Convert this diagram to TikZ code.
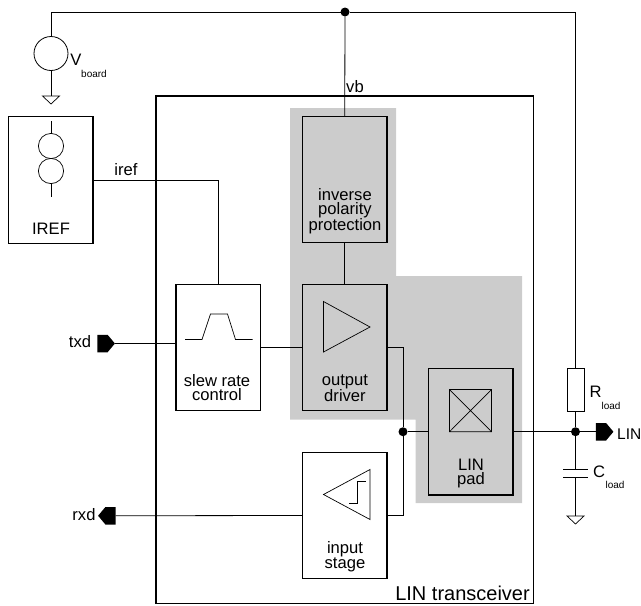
\documentclass[tikz,border=0pt]{standalone}
\usepackage{fontspec}
\setmainfont{Liberation Sans}
\usetikzlibrary{positioning,shapes.symbols}
\tikzset{
    linblock/.style={draw, rectangle, line width=1.3pt, minimum width=84.5pt, minimum height=126.5pt, inner sep=0pt, outer sep=0pt},
    linwire/.style={draw, line width=0.8pt},
    linsymbol/.style={draw, line width=0.7pt, line join=miter},
    lintext/.style={align=center, inner sep=0pt, font=\fontsize{16.6}{14}\selectfont},
    linsmall/.style={inner sep=0pt, font=\fontsize{10}{10}\selectfont},
    lindot/.style={circle, fill=black, minimum size=9pt, inner sep=0pt, outer sep=0pt},
    linport/.style={signal, fill=black, minimum width=17.5pt, minimum height=17.5pt, inner sep=0pt, outer sep=0pt, signal pointer angle=100},
    linground/.pic={\draw[linsymbol] (-8.5,0) -- (8.5,0) -- (0,8) -- cycle;}
}
\begin{document}
\begin{tikzpicture}[x=1pt, y=-1pt]
    \useasboundingbox (0,0) rectangle (641,606);
    \fill[gray!40] (290,108) -- (396,108) -- (396,276) -- (522,276) -- (522,503) -- (415.5,503) -- (415.5,419.5) -- (290,419.5) -- cycle;

    \node[linblock, minimum width=377.5pt, minimum height=507.5pt] (transceiver) at (344.75,349.75) {};
    \node[linblock] (irefbox) at (50.75,180) {};
    \node[linblock] (inverse) at (344.75,179.5) {};
    \node[linblock, below=41.5pt of inverse] (driver) {};
    \node[linblock, left=42pt of driver] (slew) {};
    \node[linblock, below=41.5pt of driver] (input) {};
    \node[linblock] (pad) at (470.75,431.75) {};
    \node[lindot, left=21pt of pad] (junction) {};
    \node[lindot] (vbdot) at (345,12) {};
    \node[lindot] (lindotnode) at (575.5,431.75) {};
    \node[draw, circle, line width=0.8pt, minimum size=34pt, inner sep=0pt, outer sep=0pt] (vboard) at (51,53.5) {};
    \node[draw, rectangle, line width=0.8pt, minimum width=17pt, minimum height=42.5pt, inner sep=0pt, outer sep=0pt] (rload) at (575.5,389.75) {};
    \node[minimum width=25pt, minimum height=8.5pt, inner sep=0pt, outer sep=0pt] (cload) at (575.5,473.5) {};
    \node[linport, signal to=east] (txdport) at (102.5,343.5) {};
    \node[linport, signal to=west] (rxdport) at (110.5,515.75) {};
    \node[linport, signal to=east] (linport) at (601,431.75) {};
    \coordinate (gndv) at (51,96);
    \coordinate (gndc) at (575.5,516);

    \draw[linwire] (vboard.north) |- (vbdot) -| (rload.north);
    \draw[linwire] (vbdot) -- (inverse.north);
    \draw[linwire] (inverse.south) -- (driver.north);
    \draw[linwire] (vboard.south) -- (gndv);
    \draw[linwire] (irefbox.east) -| (slew.north);
    \draw[linwire] (txdport.east) -- (slew.west |- txdport.east);
    \draw[linwire] (slew.east) -- (driver.west);
    \draw[linwire] (driver.east) -| (junction) |- (input.east);
    \draw[linwire] (junction) -- (pad.west);
    \draw[linwire] (pad.east) -- (linport.west);
    \draw[linwire] (input.west) -- (rxdport.east);
    \draw[linwire] (rload.south) -- (lindotnode);
    \draw[linwire] (lindotnode) -- (cload.north);
    \draw[linwire] (cload.south) -- (gndc);
    \draw[linwire] (cload.north west) -- (cload.north east);
    \draw[linwire] (cload.south west) -- (cload.south east);

    \pic at (gndv) {linground};
    \pic at (gndc) {linground};

    \draw[linsymbol] (51,121) -- (51,133.5) (51,183.5) -- (51,197);
    \draw[linsymbol] (51,146) circle (12.6);
    \draw[linsymbol] (51,171) circle (12.6);
    \draw[linsymbol] (185,339.5) -- (202,339.5) -- (210.5,314) -- (227.5,314) -- (235.5,339.5) -- (252.5,339.5);
    \draw[linsymbol] (323.5,301.5) -- (323.5,352) -- (370,327) -- cycle;
    \draw[linsymbol] (370,469.5) -- (370,519.5) -- (323.5,494.5) -- cycle;
    \draw[linsymbol] (349,503.5) -- (357.5,503.5) -- (357.5,481.5) -- (365.5,481.5);
    \draw[linsymbol] (449.5,389.5) rectangle (491.5,431.75) (449.5,389.5) -- (491.5,431.75) (449.5,431.75) -- (491.5,389.5);

    \node[lintext] (ireflabel) at (51,229) {IREF};
    \node[lintext] (ireftext) at (126,170) {iref};
    \node[lintext] (vbtext) at (355,87) {vb};
    \node[lintext] (inversetext) at (345,211) {inverse\\polarity\\protection};
    \node[lintext] (slewtext) at (217,388) {slew rate\\control};
    \node[lintext] (drivertext) at (345,388) {output\\driver};
    \node[lintext] (inputtext) at (345,556.5) {input\\stage};
    \node[lintext] (padtext) at (471,473.5) {LIN\\pad};
    \node[lintext] (txdtext) at (80,342) {txd};
    \node[lintext] (rxdtext) at (84,515) {rxd};
    \node[lintext, anchor=west, font=\fontsize{15.5}{14}\selectfont] (lintextright) at (617,434) {LIN};
    \node[lintext, anchor=east, font=\fontsize{20}{20}\selectfont] (transtext) at (530,593) {LIN transceiver};
    \node[lintext] (vtext) at (76,60) {V};
    \node[linsmall] (boardtext) at (94,73.5) {board};
    \node[lintext] (rtext) at (595.5,392) {R};
    \node[linsmall] (rloadtext) at (611,405.5) {load};
    \node[lintext] (ctext) at (599,472) {C};
    \node[linsmall] (cloadtext) at (615,485) {load};
\end{tikzpicture}
\end{document}
